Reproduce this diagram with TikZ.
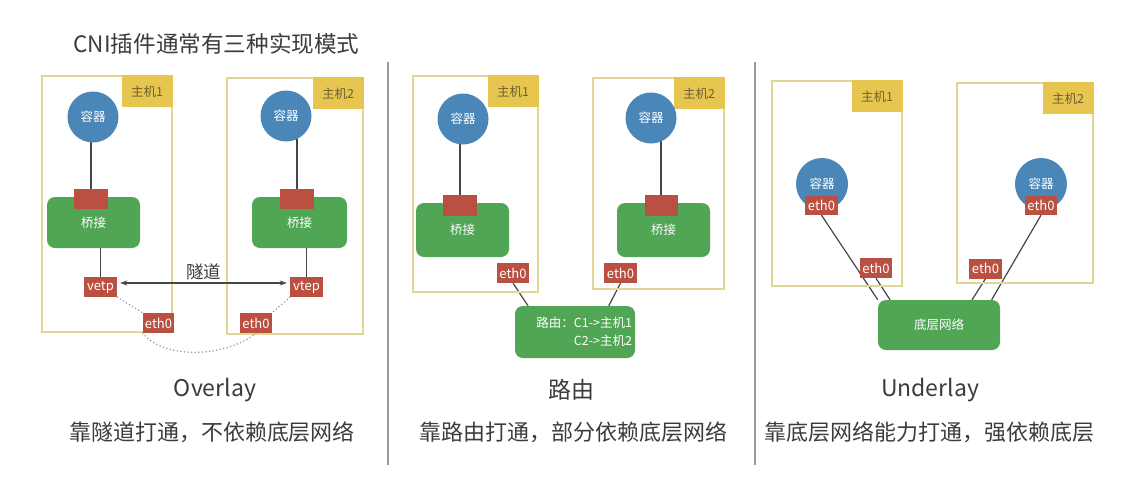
\documentclass[tikz,border=0pt]{standalone}
\usepackage{fontspec}
\setmainfont{Noto Sans CJK SC}
\usetikzlibrary{arrows.meta, positioning, calc, backgrounds}
\definecolor{hostline}{RGB}{224,214,150}
\definecolor{hostyellow}{RGB}{230,198,78}
\definecolor{labeltext}{RGB}{110,96,52}
\definecolor{ctblue}{RGB}{74,134,184}
\definecolor{brgreen}{RGB}{80,166,84}
\definecolor{portred}{RGB}{186,80,66}
\definecolor{linegray}{RGB}{70,70,70}
\definecolor{textgray}{RGB}{60,60,60}

\tikzset{
  host/.style={draw=hostline, line width=1.5pt, inner sep=0pt},
  hostlabel/.style={fill=hostyellow, text=labeltext, font=\fontsize{12.5}{14}\selectfont, minimum width=51pt, minimum height=32pt, inner sep=0pt, anchor=north east},
  ctr/.style={circle, fill=ctblue, text=white, font=\fontsize{12.5}{14}\selectfont, minimum size=51pt, inner sep=0pt},
  bridge/.style={fill=brgreen, rounded corners=8pt, text=white, font=\fontsize{12.5}{14}\selectfont, inner sep=0pt},
  port/.style={fill=portred, text=white, font=\fontsize{13}{14}\selectfont, minimum width=33pt, minimum height=20pt, inner sep=0pt},
  link/.style={draw=linegray, line width=1.2pt},
  tunnel/.style={draw=gray!80, line width=1.7pt, dash pattern=on 0pt off 3.6pt, line cap=round},
  sep/.style={draw=gray!80, line width=1.5pt},
  head/.style={text=textgray, font=\fontsize{23}{26}\selectfont},
  note/.style={text=textgray, font=\fontsize{22}{26}\selectfont},
}

\begin{document}
\begin{tikzpicture}[x=1pt, y=-1pt]
  \useasboundingbox (0,0) rectangle (1133,483);
  % Title
  \node[anchor=west, text=textgray, font=\fontsize{22.6}{26}\selectfont] (title) at (70,44) {CNI插件通常有三种实现模式};
  % Separators
  \draw[sep] (388,62) -- (388,465);
  \draw[sep] (755,62) -- (755,465);

  % Overlay: hosts
  \node[host, minimum width=130pt, minimum height=256pt] (ovh1) at (107,204) {};
  \node[hostlabel] (ovl1) at (ovh1.north east) {主机1};
  \node[host, minimum width=136pt, minimum height=256pt] (ovh2) at (295,206) {};
  \node[hostlabel] (ovl2) at (ovh2.north east) {主机2};
  % Overlay: containers, bridges
  \node[ctr] (ovc1) at (93,117) {容器};
  \node[ctr] (ovc2) at (286,116) {容器};
  \node[bridge, minimum width=93pt, minimum height=51pt] (ovb1) at (93.5,222.5) {桥接};
  \node[bridge, minimum width=95pt, minimum height=51pt] (ovb2) at (299.5,222.5) {桥接};
  \node[port, minimum width=34pt] (ovp1) at (91,199) {};
  \node[port, minimum width=34pt] (ovp2) at (297,199) {};
  % Overlay: vtep and eth0
  \node[port] (ovv1) at (100.5,287) {vetp};
  \node[port] (ovv2) at (306.5,287) {vtep};
  \node[port, minimum width=31pt] (ove1) at (158.5,323) {eth0};
  \node[port, minimum width=32pt] (ove2) at (256,323) {eth0};
  % Tunnel
  \draw[draw=linegray, line width=1.2pt, {Stealth[length=7pt,width=5pt]}-{Stealth[length=7pt,width=5pt]}, shorten <=3pt, shorten >=3pt]
    ([yshift=4pt]ovv1.east) -- node[midway, yshift=11pt, text=textgray, font=\fontsize{17.5}{20}\selectfont] (ovtl) {隧道} ([yshift=4pt]ovv2.west);
  \draw[tunnel] (ovv1.south east) -- (ove1.north west);
  \draw[tunnel] (ovv2.south west) -- (ove2.north east);
  \draw[tunnel] (ove1.south west) .. controls +(22,27) and +(-30,24) .. (ove2.south);

  % Routing: hosts
  \node[host, minimum width=125pt, minimum height=216pt] (rth1) at (475.5,184) {};
  \node[hostlabel] (rtl1) at (rth1.north east) {主机1};
  \node[host, minimum width=131pt, minimum height=211pt] (rth2) at (658.5,183.5) {};
  \node[hostlabel] (rtl2) at (rth2.north east) {主机2};
  % Routing: containers, bridges
  \node[ctr] (rtc1) at (463,119) {容器};
  \node[ctr] (rtc2) at (651,118) {容器};
  \node[bridge, minimum width=93pt, minimum height=54pt] (rtb1) at (462.5,230) {桥接};
  \node[bridge, minimum width=93pt, minimum height=54pt] (rtb2) at (663.5,230) {桥接};
  \node[port, minimum width=34pt, minimum height=21pt] (rtp1) at (460,205.5) {};
  \node[port, minimum width=33pt, minimum height=21pt] (rtp2) at (661,205.5) {};
  \node[port, minimum width=32pt] (rte1) at (513,273) {eth0};
  \node[port] (rte2) at (620.5,273) {eth0};
  % Router
  \node[bridge, minimum width=120pt, minimum height=52pt, text width=114pt, inner xsep=3pt, align=right, font=\fontsize{12.5}{18}\selectfont] (rtr) at (575,332) {路由：C1->主机1\\C2->主机2};

  % Underlay: hosts
  \node[host, minimum width=130pt, minimum height=205pt] (udh1) at (837,183.5) {};
  \node[hostlabel] (udl1) at (udh1.north east) {主机1};
  \node[host, minimum width=136pt, minimum height=200pt] (udh2) at (1025,183) {};
  \node[hostlabel] (udl2) at (udh2.north east) {主机2};
  % Underlay: containers and eth0
  \node[ctr, minimum size=52pt] (udc1) at (822,184) {容器};
  \node[ctr, minimum size=52pt] (udc2) at (1041,184) {容器};
  \node[port, minimum height=19pt] (udce1) at (821.5,205.5) {eth0};
  \node[port, minimum height=19pt, minimum width=32pt] (udce2) at (1041,205.5) {eth0};
  \node[port, minimum width=32pt] (udhe1) at (876,268) {eth0};
  \node[port] (udhe2) at (985.5,268.5) {eth0};
  \node[bridge, minimum width=122pt, minimum height=50pt] (udnet) at (939,325) {底层网络};

  % Links (behind the nodes)
  \begin{scope}[on background layer]
    \fill[white] (0,0) rectangle (1133,483);
    \draw[link] (ovp1.center) -- (ovp1.center |- ovc1.center);
    \draw[link] (ovp2.center) -- (ovp2.center |- ovc2.center);
    \draw[link] (ovv1.center) -- (ovv1.center |- ovb1.center);
    \draw[link] (ovv2.center) -- (ovv2.center |- ovb2.center);
    \draw[link] (rtp1.center) -- (rtp1.center |- rtc1.center);
    \draw[link] (rtp2.center) -- (rtp2.center |- rtc2.center);
    \draw[link] (rte1.south) -- ($(rtr.north west)!.11!(rtr.north east)$);
    \draw[link] (rte2.south) -- ($(rtr.north west)!.78!(rtr.north east)$);
    \draw[link] (udce1.south) -- (udnet.north west);
    \draw[link] (udhe1.south) -- ($(udnet.north west)!.1!(udnet.north east)$);
    \draw[link] (udhe2.south) -- ($(udnet.north west)!.77!(udnet.north east)$);
    \draw[link] (udce2.south) -- ($(udnet.north west)!.93!(udnet.north east)$);
  \end{scope}

  % Captions
  \node[head] (ovname) at (215,390) {Overlay};
  \node[note] (ovnote) at (212,432) {靠隧道打通，不依赖底层网络};
  \node[head] (rtname) at (571,390) {路由};
  \node[note] (rtnote) at (573,432) {靠路由打通，部分依赖底层网络};
  \node[head] (udname) at (930,390) {Underlay};
  \node[note] (udnote) at (929,432) {靠底层网络能力打通，强依赖底层};
\end{tikzpicture}
\end{document}
